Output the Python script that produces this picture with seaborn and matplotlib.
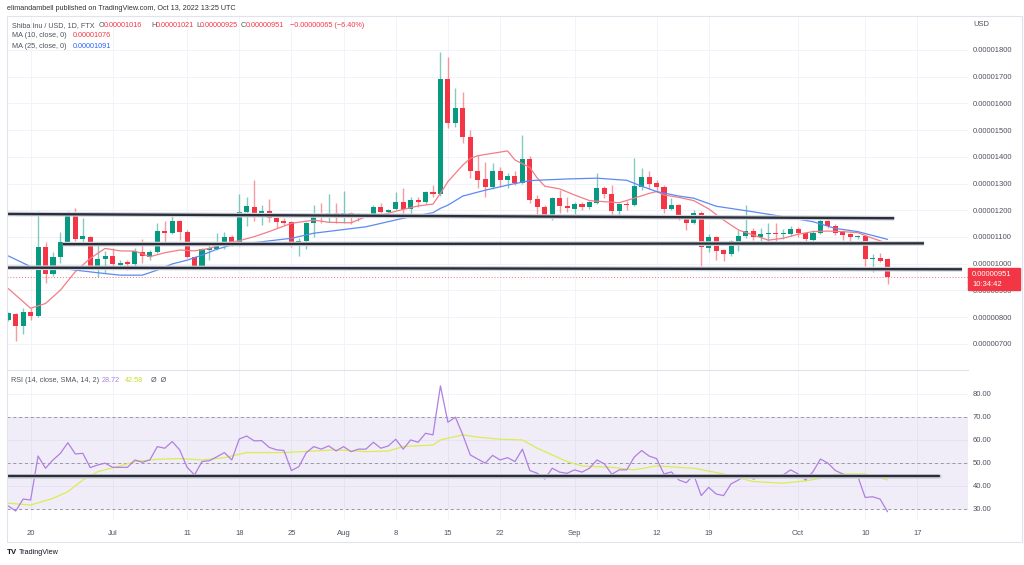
import matplotlib
matplotlib.use("Agg")
import numpy as np
import pandas as pd
import matplotlib.pyplot as plt
import seaborn as sns
from matplotlib.patches import Rectangle
from matplotlib import font_manager

# daily candles, Jun 17 .. Oct 13 2022, prices in units of 1e-8 USD
start = pd.Timestamp("2022-06-17")
opens = [791, 811, 766, 818, 804, 1061, 961, 1026, 1081, 1178, 1091, 1101, 991, 1016, 1030, 996, 1005, 997, 1045, 1026,
         1043, 1123, 1116, 1158, 1120, 1026, 986, 1051, 1056, 1078, 1101, 1070, 1193, 1213, 1191, 1198, 1170, 1160, 1157, 1066,
         1086, 1151, 1182, 1173, 1191, 1170, 1191, 1172, 1186, 1182, 1211, 1195, 1203, 1231, 1203, 1238, 1229, 1268, 1261, 1691,
         1525, 1582, 1475, 1348, 1316, 1288, 1348, 1313, 1330, 1303, 1392, 1241, 1213, 1173, 1244, 1215, 1206, 1223, 1211, 1228,
         1282, 1261, 1198, 1223, 1218, 1288, 1326, 1301, 1288, 1203, 1219, 1173, 1153, 1191, 1057, 1098, 1051, 1035, 1082, 1103,
         1123, 1098, 1110, 1113, 1110, 1110, 1129, 1116, 1088, 1116, 1161, 1141, 1117, 1111, 1098, 1103, 1018, 1021, 1016]
highs = [820, 815, 833, 833, 1197, 1080, 1045, 1120, 1198, 1207, 1170, 1105, 1070, 1048, 1057, 1013, 1013, 1057, 1094, 1050,
         1151, 1160, 1188, 1165, 1125, 1030, 1058, 1076, 1116, 1120, 1108, 1261, 1248, 1313, 1219, 1241, 1176, 1172, 1160, 1095,
         1157, 1219, 1228, 1261, 1226, 1273, 1195, 1190, 1190, 1218, 1228, 1206, 1270, 1282, 1250, 1250, 1272, 1294, 1791, 1773,
         1657, 1644, 1500, 1407, 1382, 1376, 1360, 1341, 1345, 1482, 1403, 1257, 1220, 1250, 1276, 1250, 1230, 1230, 1236, 1341,
         1290, 1294, 1228, 1235, 1394, 1357, 1348, 1313, 1295, 1244, 1225, 1176, 1200, 1198, 1111, 1105, 1055, 1090, 1126, 1219,
         1135, 1135, 1153, 1153, 1128, 1140, 1138, 1120, 1125, 1170, 1178, 1148, 1125, 1115, 1108, 1108, 1035, 1039, 1021]
lows = [785, 711, 736, 789, 799, 926, 955, 1001, 1075, 1085, 1076, 985, 951, 966, 989, 986, 976, 990, 1001, 1013,
        1040, 1070, 1110, 1088, 1020, 980, 980, 1013, 1051, 1054, 1065, 1065, 1141, 1160, 1144, 1157, 1132, 1144, 1062, 1029,
        1054, 1101, 1151, 1157, 1151, 1151, 1148, 1160, 1175, 1178, 1190, 1182, 1200, 1170, 1180, 1212, 1225, 1250, 1255, 1507,
        1513, 1450, 1320, 1282, 1248, 1280, 1288, 1282, 1296, 1298, 1228, 1182, 1173, 1165, 1191, 1195, 1186, 1200, 1205, 1225,
        1245, 1173, 1175, 1200, 1215, 1275, 1280, 1270, 1191, 1200, 1165, 1126, 1150, 991, 1045, 1013, 1011, 1030, 1048, 1096,
        1090, 1083, 1076, 1076, 1094, 1105, 1100, 1076, 1080, 1112, 1135, 1108, 1090, 1082, 1092, 991, 970, 1005, 925]
closes = [814, 766, 819, 805, 1061, 961, 1026, 1081, 1178, 1091, 1103, 991, 1017, 1030, 997, 1004, 998, 1047, 1029, 1043,
          1123, 1116, 1160, 1118, 1024, 986, 1054, 1060, 1081, 1101, 1070, 1195, 1215, 1191, 1198, 1170, 1157, 1154, 1066, 1086,
          1151, 1182, 1173, 1191, 1170, 1191, 1170, 1185, 1180, 1211, 1195, 1200, 1231, 1203, 1238, 1229, 1268, 1260, 1691, 1525,
          1582, 1475, 1348, 1313, 1288, 1348, 1313, 1330, 1301, 1392, 1238, 1213, 1178, 1244, 1215, 1207, 1223, 1211, 1232, 1282,
          1260, 1198, 1222, 1218, 1291, 1326, 1298, 1286, 1206, 1219, 1170, 1153, 1191, 1061, 1098, 1048, 1035, 1085, 1103, 1123,
          1098, 1111, 1113, 1110, 1116, 1129, 1113, 1091, 1116, 1161, 1141, 1116, 1107, 1098, 1103, 1017, 1021, 1011, 951]

# moving averages (day index, value)
ma10_day = [0, 3, 5, 7, 9, 11, 13, 15, 17, 19, 21, 23, 25, 27, 29, 31, 33, 35, 38, 41, 43, 46, 48, 50, 53, 55, 57, 58,
            59, 60, 61, 62, 63, 65, 67, 68, 70, 71, 72, 74, 76, 78, 80, 82, 84, 86, 87, 88, 90, 92, 94, 96, 98, 100,
            102, 104, 106, 108, 110, 112, 114, 116, 118]
ma10_val = [907, 833, 851, 901, 970, 1020, 1057, 1048, 1047, 1026, 1041, 1051, 1048, 1057, 1076, 1086, 1101, 1120, 1151,
            1163, 1155, 1153, 1176, 1182, 1203, 1216, 1223, 1263, 1307, 1338, 1369, 1394, 1404, 1413, 1422, 1388, 1360,
            1320, 1290, 1280, 1257, 1236, 1232, 1228, 1245, 1263, 1270, 1257, 1248, 1236, 1205, 1163, 1126, 1107, 1088,
            1095, 1110, 1120, 1122, 1120, 1116, 1095, 1076]
ma25_day = [0, 3, 6, 9, 12, 15, 18, 20, 22, 24, 26, 28, 30, 32, 34, 38, 41, 48, 53, 57, 58, 59, 61, 64, 67, 70, 75, 79,
            83, 85, 87, 90, 92, 95, 100, 104, 108, 111, 114, 118]
ma25_val = [1029, 989, 986, 976, 966, 957, 957, 976, 999, 1013, 1032, 1054, 1070, 1076, 1082, 1095, 1114, 1138, 1170,
            1191, 1207, 1219, 1253, 1275, 1294, 1311, 1317, 1320, 1312, 1290, 1270, 1253, 1245, 1215, 1194, 1176, 1157,
            1132, 1120, 1091]

rsi = [31.3, 29.1, 34.3, 33.9, 53.0, 47.7, 51.3, 54.2, 58.8, 53.9, 54.2, 48.0, 49.1, 49.9, 48.1, 48.1, 48.1, 51.3, 50.3,
       51.3, 57.1, 56.4, 59.3, 55.7, 48.1, 44.8, 50.6, 51.0, 52.7, 54.5, 51.3, 60.4, 61.7, 59.6, 59.7, 56.8, 55.7, 55.4,
       46.7, 48.4, 54.5, 57.1, 56.0, 57.4, 55.2, 57.1, 54.9, 56.0, 56.0, 59.0, 56.4, 57.4, 60.3, 56.0, 60.0, 59.0, 62.9,
       62.2, 83.5, 67.7, 69.9, 62.2, 53.5, 51.7, 49.9, 53.3, 51.3, 52.3, 50.6, 56.0, 46.7, 45.5, 43.0, 47.7, 46.0, 45.5,
       47.0, 46.0, 47.7, 51.3, 49.6, 45.1, 47.0, 47.0, 52.5, 55.4, 53.0, 51.9, 45.2, 46.1, 42.6, 41.4, 44.8, 35.8, 39.4,
       36.5, 35.8, 40.9, 42.6, 44.8, 43.0, 44.0, 44.2, 43.8, 44.8, 47.0, 45.2, 42.6, 46.2, 51.7, 49.9, 46.7, 45.2, 44.0,
       44.3, 35.0, 35.3, 34.3, 28.8]
rsi_ma_day = [0, 3, 6, 8, 10, 12, 15, 17, 20, 23, 26, 29, 32, 37, 44, 48, 51, 53, 57, 58, 61, 63, 66, 69, 71, 75, 77,
              81, 84, 87, 92, 96, 100, 104, 107, 109, 111, 115, 118]
rsi_ma_val = [32.5, 31.7, 34.6, 37.5, 42.6, 46.2, 48.7, 50.6, 51.6, 51.9, 51.3, 52.3, 54.5, 54.5, 55.7, 54.9, 55.2,
              57.1, 57.8, 60.0, 62.2, 61.2, 60.3, 60.0, 56.4, 50.6, 48.7, 48.1, 47.0, 48.7, 47.7, 45.2, 41.9, 41.2,
              42.2, 43.3, 45.1, 45.2, 42.6]

# hand-drawn horizontal levels: (day from, value, day to, value)
price_levels = [(-0.2, 1186, 118.9, 1170), (7.3, 1073, 122.9, 1076), (-0.2, 985, 128.0, 979)]
rsi_level = 44.2
last_price = 951

tick_dates = ["2022-06-20", "2022-07-01", "2022-07-11", "2022-07-18", "2022-07-25", "2022-08-01", "2022-08-08",
              "2022-08-15", "2022-08-22", "2022-09-01", "2022-09-12", "2022-09-19", "2022-10-01", "2022-10-10",
              "2022-10-17"]
tick_labels = ["20", "Jul", "11", "18", "25", "Aug", "8", "15", "22", "Sep", "12", "19", "Oct", "10", "17"]
price_ticks = list(range(700, 1900, 100))
rsi_ticks = [30, 40, 50, 60, 70, 80]

UP, DOWN = "#089981", "#f23645"
TXT = "#50535e"

sns.set_theme(style="white")
# TradingView's labels are set in a narrow face; use Liberation Sans Narrow when it is there
names = {f.name for f in font_manager.fontManager.ttflist}
if "Liberation Sans Narrow" in names:
    plt.rcParams['font.family'] = ['Liberation Sans Narrow', 'DejaVu Sans']
    fs = 6.3
else:
    plt.rcParams['font.family'] = ['Liberation Sans', 'DejaVu Sans']
    fs = 5.2
tfs = fs * 1.05

W, H = 1024, 565
fig = plt.figure(figsize=(W / 100, H / 100), dpi=100)
ax = fig.add_axes([7 / W, 1 - 370 / H, 961 / W, 354 / H])
ax_rsi = fig.add_axes([7 / W, 1 - 520 / H, 961 / W, 150 / H], sharex=ax)

days = np.arange(len(closes))
xticks = [(pd.Timestamp(d) - start).days for d in tick_dates]

# candles
for i in days:
    o, h, l, c = opens[i], highs[i], lows[i], closes[i]
    col = UP if c >= o else DOWN
    ax.vlines(i, l, h, color=col, alpha=0.5, lw=1, zorder=3)
    ax.bar(i, max(abs(c - o), 2), bottom=min(o, c), width=0.68, color=col, lw=0, zorder=4)

sns.lineplot(x=ma10_day, y=ma10_val, ax=ax, color="#f47c86", lw=0.9, zorder=5)
sns.lineplot(x=ma25_day, y=ma25_val, ax=ax, color="#5b8af2", lw=0.9, zorder=5)

for x0, y0, x1, y1 in price_levels:
    ax.plot([x0, x1], [y0, y1], color="#d1d4dc", lw=3.4, solid_capstyle="butt", zorder=6)
    ax.plot([x0, x1], [y0, y1], color="#2a2e39", lw=1.7, solid_capstyle="butt", zorder=7)

ax.axhline(last_price, color=DOWN, lw=0.7, ls=(0, (1, 2)), alpha=0.7, zorder=2)

xmin, xmax = -0.17, 128.8
ax.set_xlim(xmin, xmax)
ax.set_ylim(602, 1927)
ax.yaxis.tick_right()
ax.set_yticks(price_ticks)
ax.set_yticklabels([f"{v / 1e8:.8f}" for v in price_ticks])
ax.set_xticks(xticks)
ax.tick_params(axis="x", labelbottom=False, length=0)
ax.tick_params(axis="y", length=0, pad=3.5, labelsize=tfs, labelcolor=TXT)
ax.grid(True, color="#f0f3fa", lw=0.7, zorder=0)
for s in ax.spines.values():
    s.set_visible(False)

# RSI pane
ax_rsi.axhspan(30, 70, color="#7e57c2", alpha=0.1, lw=0, zorder=1)
for lv in (30, 50, 70):
    ax_rsi.axhline(lv, color="#9598a1", lw=0.7, ls=(0, (3, 3)), zorder=2)
sns.lineplot(x=days, y=rsi, ax=ax_rsi, color="#b07fe0", lw=0.9, zorder=4)
sns.lineplot(x=rsi_ma_day, y=rsi_ma_val, ax=ax_rsi, color="#dbec52", lw=0.9, zorder=3)
ax_rsi.plot([-0.2, 124.9], [rsi_level, rsi_level], color="#d1d4dc", lw=3.4, zorder=5)
ax_rsi.plot([-0.2, 124.9], [rsi_level, rsi_level], color="#2a2e39", lw=1.7, zorder=6)

ax_rsi.set_ylim(25.2, 90.4)
ax_rsi.yaxis.tick_right()
ax_rsi.set_yticks(rsi_ticks)
ax_rsi.set_yticklabels([f"{v:.2f}" for v in rsi_ticks])
ax_rsi.set_xticks(xticks)
ax_rsi.set_xticklabels(tick_labels)
ax_rsi.tick_params(axis="x", length=0, pad=7, labelsize=tfs, labelcolor=TXT)
ax_rsi.tick_params(axis="y", length=0, pad=3.5, labelsize=tfs, labelcolor=TXT)
ax_rsi.grid(True, color="#f0f3fa", lw=0.7, zorder=0)
for s in ax_rsi.spines.values():
    s.set_visible(False)
ax_rsi.spines["top"].set_visible(True)
ax_rsi.spines["top"].set_color("#e0e3eb")
ax_rsi.spines["top"].set_linewidth(0.8)


def px(x, y):
    return x / W, 1 - y / H


# outer frame
fig.patches.append(Rectangle(px(7, 542), 1015 / W, 526 / H, transform=fig.transFigure, fill=False,
                             edgecolor="#e0e3eb", lw=0.8))
# last price label on the axis
fig.patches.append(Rectangle(px(968, 290), 52 / W, 22 / H, transform=fig.transFigure, color=DOWN, zorder=5))
fig.text(*px(972, 275), "0.00000951", color="white", fontsize=tfs, va="center", zorder=6)
fig.text(*px(972, 285), "10:34:42", color="white", fontsize=tfs, va="center", zorder=6)
fig.text(*px(973, 25), "USD", color=TXT, fontsize=tfs, va="center")

fig.text(*px(7, 8.7), "elimandambell published on TradingView.com, Oct 13, 2022 13:25 UTC", color="#333333",
         fontsize=fs, va="center")
fig.text(*px(11.7, 25.7), "Shiba Inu / USD, 1D, FTX", color=TXT, fontsize=fs, va="center")
for lx, letter, vx, val in [(99, "O", 103.7, "0.00001016"), (151, "H", 155.7, "0.00001021"),
                            (196, "L", 199.7, "0.00000925"), (240.3, "C", 245.3, "0.00000951")]:
    fig.text(*px(lx, 25.7), letter, color=TXT, fontsize=fs, va="center")
    fig.text(*px(vx, 25.7), val, color=DOWN, fontsize=fs, va="center")
fig.text(*px(290, 25.7), "\u22120.00000065 (\u22126.40%)", color=DOWN, fontsize=fs, va="center")
fig.text(*px(11.7, 35.7), "MA (10, close, 0)", color=TXT, fontsize=fs, va="center")
fig.text(*px(72.3, 35.7), "0.00001076", color=DOWN, fontsize=fs, va="center")
fig.text(*px(11.7, 46), "MA (25, close, 0)", color=TXT, fontsize=fs, va="center")
fig.text(*px(72.3, 46), "0.00001091", color="#2962ff", fontsize=fs, va="center")

fig.text(*px(11.3, 380.7), "RSI (14, close, SMA, 14, 2)", color=TXT, fontsize=fs, va="center")
fig.text(*px(102, 380.7), "28.72", color="#b07fe0", fontsize=fs, va="center")
fig.text(*px(125, 380.7), "42.58", color="#c8dc2e", fontsize=fs, va="center")
fig.text(*px(151, 380.7), "\u00d8  \u00d8", color=TXT, fontsize=fs, va="center")

fig.text(*px(7, 553), "TV", color="#131722", fontsize=fs * 1.1, fontweight="bold", va="center")
fig.text(*px(19, 553), "TradingView", color="#131722", fontsize=fs, va="center")

fig.savefig("out.png", dpi=100, facecolor="white")
